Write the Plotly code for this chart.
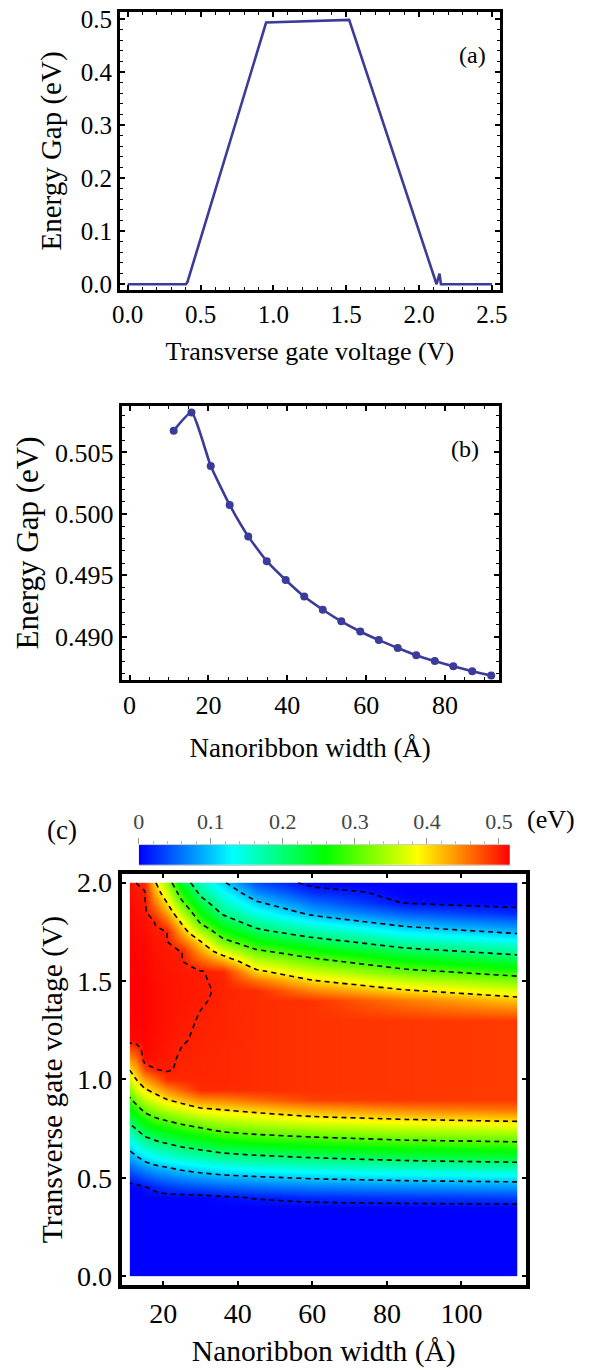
import numpy as np
import plotly.graph_objects as go

# ---------------- Panel (a): gap vs transverse gate voltage ----------------
gate_voltage_a = [0.0, 0.40, 0.41, 0.95, 1.52, 2.12, 2.14, 2.15, 2.50]
energy_gap_a = [0.0, 0.0, 0.004, 0.493, 0.498, 0.0, 0.02, 0.0, 0.0]

# ---------------- Panel (b): gap vs nanoribbon width ----------------
width_b = [11.2, 15.7, 20.6, 25.4, 30.1, 34.8, 39.6, 44.3, 49.0, 53.7,
           58.5, 63.2, 68.0, 72.7, 77.4, 82.1, 86.9, 91.7]
energy_gap_b = [0.50677, 0.50825, 0.50390, 0.50073, 0.49817, 0.49615,
                0.49462, 0.49327, 0.49220, 0.49126, 0.49043, 0.48973,
                0.48909, 0.48850, 0.48802, 0.48760, 0.48720, 0.48685]

# ---------------- Panel (c): gap map (width x voltage) ----------------
width_c = [11, 13, 15, 18, 21, 25, 30, 36, 45, 60, 85, 115]
voltage_c = [0.0, 0.30, 0.35, 0.40, 0.45, 0.50, 0.55, 0.60, 0.65, 0.70,
             0.75, 0.80, 0.85, 0.90, 0.95, 1.00, 1.05, 1.10, 1.15, 1.20,
             1.30, 1.40, 1.45, 1.50, 1.55, 1.60, 1.65, 1.70, 1.75, 1.80,
             1.85, 1.90, 1.95, 2.00]
# one list per width (values along voltage_c), estimated from the map
gap_w11 = [0, 0, 0, 0, 0, 0.022, 0.050, 0.078, 0.107, 0.144, 0.181, 0.219, 0.256, 0.293, 0.329, 0.366, 0.402, 0.439, 0.475, 0.511,
           0.513, 0.514, 0.514, 0.514, 0.514, 0.514, 0.513, 0.513, 0.512, 0.512, 0.511, 0.510, 0.509, 0.508]
gap_w13 = [0, 0, 0, 0, 0, 0.031, 0.063, 0.094, 0.130, 0.167, 0.204, 0.245, 0.285, 0.326, 0.366, 0.404, 0.432, 0.459, 0.486, 0.512,
           0.514, 0.515, 0.515, 0.515, 0.514, 0.514, 0.513, 0.512, 0.511, 0.510, 0.508, 0.506, 0.503, 0.4995]
gap_w15 = [0, 0, 0, 0, 0.007, 0.041, 0.076, 0.112, 0.151, 0.191, 0.232, 0.273, 0.315, 0.355, 0.396, 0.436, 0.480, 0.510, 0.512, 0.513,
           0.514, 0.514, 0.514, 0.514, 0.513, 0.513, 0.512, 0.511, 0.510, 0.508, 0.506, 0.504, 0.501, 0.495]
gap_w18 = [0, 0, 0, 0, 0.017, 0.053, 0.089, 0.127, 0.168, 0.209, 0.253, 0.296, 0.338, 0.379, 0.420, 0.460, 0.4995, 0.505, 0.507, 0.508,
           0.509, 0.509, 0.509, 0.508, 0.508, 0.507, 0.506, 0.504, 0.502, 0.4987, 0.474, 0.449, 0.424, 0.401]
gap_w21 = [0, 0, 0, 0, 0.026, 0.061, 0.097, 0.138, 0.179, 0.222, 0.265, 0.309, 0.355, 0.401, 0.445, 0.492, 0.502, 0.503, 0.504, 0.505,
           0.506, 0.506, 0.506, 0.506, 0.505, 0.504, 0.503, 0.502, 0.4998, 0.466, 0.433, 0.399, 0.367, 0.333]
gap_w25 = [0, 0, 0, 0, 0.033, 0.071, 0.109, 0.152, 0.194, 0.237, 0.280, 0.326, 0.373, 0.421, 0.468, 0.495, 0.497, 0.498, 0.4995, 0.501,
           0.503, 0.504, 0.504, 0.504, 0.503, 0.502, 0.4996, 0.464, 0.428, 0.392, 0.350, 0.308, 0.271, 0.236]
gap_w30 = [0, 0, 0, 0, 0.039, 0.079, 0.120, 0.163, 0.207, 0.251, 0.296, 0.345, 0.395, 0.446, 0.495, 0.496, 0.497, 0.497, 0.498, 0.498,
           0.499, 0.501, 0.502, 0.501, 0.5005, 0.471, 0.436, 0.402, 0.344, 0.293, 0.257, 0.221, 0.188, 0.159]
gap_w36 = [0, 0, 0, 0.006, 0.047, 0.087, 0.131, 0.176, 0.222, 0.269, 0.315, 0.360, 0.404, 0.449, 0.494, 0.496, 0.496, 0.496, 0.496, 0.497,
           0.497, 0.498, 0.498, 0.498, 0.497, 0.436, 0.376, 0.316, 0.270, 0.228, 0.190, 0.162, 0.134, 0.106]
gap_w45 = [0, 0, 0, 0.012, 0.053, 0.094, 0.140, 0.186, 0.233, 0.281, 0.327, 0.372, 0.417, 0.463, 0.493, 0.493, 0.493, 0.493, 0.493, 0.493,
           0.493, 0.493, 0.493, 0.457, 0.408, 0.359, 0.310, 0.262, 0.214, 0.175, 0.139, 0.104, 0.071, 0.039]
gap_w60 = [0, 0, 0, 0.019, 0.061, 0.104, 0.151, 0.198, 0.246, 0.293, 0.341, 0.389, 0.436, 0.483, 0.490, 0.490, 0.490, 0.490, 0.490, 0.490,
           0.490, 0.490, 0.449, 0.404, 0.360, 0.316, 0.269, 0.220, 0.173, 0.127, 0.087, 0.056, 0.024, 0]
gap_w85 = [0, 0, 0, 0.025, 0.068, 0.113, 0.162, 0.212, 0.260, 0.308, 0.355, 0.403, 0.452, 0.488, 0.488, 0.488, 0.488, 0.488, 0.488, 0.488,
           0.488, 0.454, 0.405, 0.357, 0.310, 0.263, 0.217, 0.170, 0.123, 0.081, 0.044, 0.007, 0, 0]
gap_w115 = [0, 0, 0, 0.031, 0.073, 0.119, 0.171, 0.221, 0.269, 0.316, 0.364, 0.413, 0.461, 0.486, 0.486, 0.486, 0.486, 0.486, 0.486, 0.486,
            0.486, 0.418, 0.370, 0.323, 0.276, 0.230, 0.184, 0.137, 0.092, 0.055, 0.019, 0, 0, 0]
gap_columns = [gap_w11, gap_w13, gap_w15, gap_w18, gap_w21, gap_w25,
               gap_w30, gap_w36, gap_w45, gap_w60, gap_w85, gap_w115]

zero_level = 0.01
contour_start, contour_end, contour_step = 0.1, 0.501, 0.1
cbar_max = 0.5154
cbar_ticks = [0, 0.1, 0.2, 0.3, 0.4, 0.5]

rainbow = [[0.0, "rgb(0,0,255)"], [0.25, "rgb(0,255,255)"], [0.5, "rgb(0,255,0)"],
           [0.75, "rgb(255,255,0)"], [1.0, "rgb(255,0,0)"]]

# table for the contour trace: rows = voltage, columns = width
z_c = np.array(gap_columns).T.tolist()

W, H = 606, 1370
def px_x(p):
    return p / W
def px_y(p):
    return 1 - p / H

LINE = "#3b3b9b"
FONT = "Liberation Serif"
DASH = dict(color="black", width=1.6, dash="5px,4px", smoothing=0.5)

fig = go.Figure()

fig.add_trace(go.Scatter(x=gate_voltage_a, y=energy_gap_a, mode="lines",
                         line=dict(color=LINE, width=2.6), xaxis="x", yaxis="y",
                         showlegend=False, hoverinfo="skip"))

fig.add_trace(go.Scatter(x=width_b, y=energy_gap_b, mode="lines+markers",
                         line=dict(color=LINE, width=2.6, shape="spline", smoothing=0.5),
                         marker=dict(color=LINE, size=8),
                         xaxis="x2", yaxis="y2", showlegend=False, hoverinfo="skip"))

fig.add_trace(go.Contour(x=width_c, y=voltage_c, z=z_c, xaxis="x3", yaxis="y3",
                         colorscale=rainbow, zmin=0, zmax=cbar_max, autocontour=False,
                         contours=dict(coloring="heatmap", start=contour_start,
                                       end=contour_end, size=contour_step),
                         line=DASH, showscale=False, hoverinfo="skip"))

fig.add_trace(go.Contour(x=width_c, y=voltage_c, z=z_c, xaxis="x3", yaxis="y3",
                         autocontour=False,
                         contours=dict(coloring="none", start=zero_level,
                                       end=zero_level + 0.04, size=0.1),
                         line=DASH, showscale=False, hoverinfo="skip"))

# colour-bar strip (gradient from 0 to cbar_max)
fig.add_trace(go.Heatmap(x=[0, cbar_max], y=[0, 1], z=[[0, cbar_max], [0, cbar_max]],
                         xaxis="x4", yaxis="y4", colorscale=rainbow, zmin=0, zmax=cbar_max,
                         zsmooth="best", showscale=False, hoverinfo="skip"))

def frame(**kw):
    d = dict(showline=True, linecolor="black", linewidth=3, mirror="allticks",
             ticks="inside", ticklen=5, tickwidth=1.5, tickcolor="black",
             showgrid=False, zeroline=False,
             tickfont=dict(family=FONT, size=25, color="black"))
    d.update(kw)
    return d

def label(text, x, y, size):
    return dict(text=text, x=px_x(x), y=px_y(y), xref="paper", yref="paper",
                xanchor="center", yanchor="middle", showarrow=False,
                font=dict(family=FONT, size=size, color="black"))

layout = dict(
    width=W, height=H, autosize=False,
    margin=dict(l=0, r=0, t=0, b=0),
    paper_bgcolor="white", plot_bgcolor="white",
    font=dict(family=FONT, color="black"),
    showlegend=False,
    xaxis=frame(domain=[px_x(115), px_x(505)], range=[-0.053, 2.553], anchor="y",
                dtick=0.5, tick0=0, tickformat=".1f",
                minor=dict(ticks="inside", ticklen=3, dtick=0.1, tickcolor="black", tickwidth=1.2),
                title=dict(text="Transverse gate voltage (V)", font=dict(family=FONT, size=26), standoff=15)),
    yaxis=frame(domain=[px_y(287), px_y(6)], range=[-0.011, 0.513], anchor="x",
                dtick=0.1, tick0=0, tickformat=".1f",
                minor=dict(ticks="inside", ticklen=3, dtick=0.02, tickcolor="black", tickwidth=1.2),
                title=dict(text="Energy Gap (eV)", font=dict(family=FONT, size=29), standoff=11)),
    xaxis2=frame(domain=[px_x(116.7), px_x(504)], range=[-2.0, 93.6], anchor="y2",
                 dtick=20, tick0=0, tickfont=dict(family=FONT, size=26, color="black"),
                 minor=dict(ticks="inside", ticklen=3, dtick=5, tickcolor="black", tickwidth=1.2),
                 title=dict(text="Nanoribbon width (Å)", font=dict(family=FONT, size=27), standoff=19)),
    yaxis2=frame(domain=[px_y(681), px_y(404)], range=[0.48648, 0.50879], anchor="x2",
                 tickvals=[0.490, 0.495, 0.500, 0.505], tickformat=".3f",
                 tickfont=dict(family=FONT, size=26, color="black"),
                 minor=dict(ticks="inside", ticklen=3, dtick=0.001, tickcolor="black", tickwidth=1.2),
                 title=dict(text="Energy Gap (eV)", font=dict(family=FONT, size=31), standoff=8)),
    xaxis3=frame(domain=[px_x(116.7), px_x(532)], range=[8.85, 117.3], anchor="y3",
                 dtick=20, tick0=0, linewidth=4, ticklen=4,
                 tickfont=dict(family=FONT, size=28, color="black"),
                 title=dict(text="Nanoribbon width (Å)", font=dict(family=FONT, size=29.5), standoff=13)),
    yaxis3=frame(domain=[px_y(1292.7), px_y(876.7)], range=[-0.047, 2.045], anchor="x3",
                 dtick=0.5, tick0=0, tickformat=".1f", linewidth=4, ticklen=4,
                 tickfont=dict(family=FONT, size=28, color="black"),
                 title=dict(text="Transverse gate voltage (V)", font=dict(family=FONT, size=29.5), standoff=7)),
    xaxis4=dict(domain=[px_x(134.3), px_x(515.7)], range=[0, cbar_max], anchor="y4", side="top",
                showline=True, linecolor="#cccccc", linewidth=1, mirror=True,
                ticks="outside", ticklen=6, tickwidth=1, tickcolor="#999999",
                tickvals=cbar_ticks, showgrid=False, zeroline=False,
                minor=dict(ticks="outside", ticklen=3, dtick=0.02, tickcolor="#bbbbbb", tickwidth=1),
                tickfont=dict(family=FONT, size=22, color="#444444")),
    yaxis4=dict(domain=[px_y(867.7), px_y(847.7)], range=[0, 1], anchor="x4",
                visible=False),
    annotations=[
        label("(a)", 477, 50, 24),
        label("(b)", 469, 448, 24),
        label("(c)", 55, 833, 27),
        label("(eV)", 558, 822, 26),
    ],
)
fig.update_layout(**layout)
fig.write_html("out.html")
